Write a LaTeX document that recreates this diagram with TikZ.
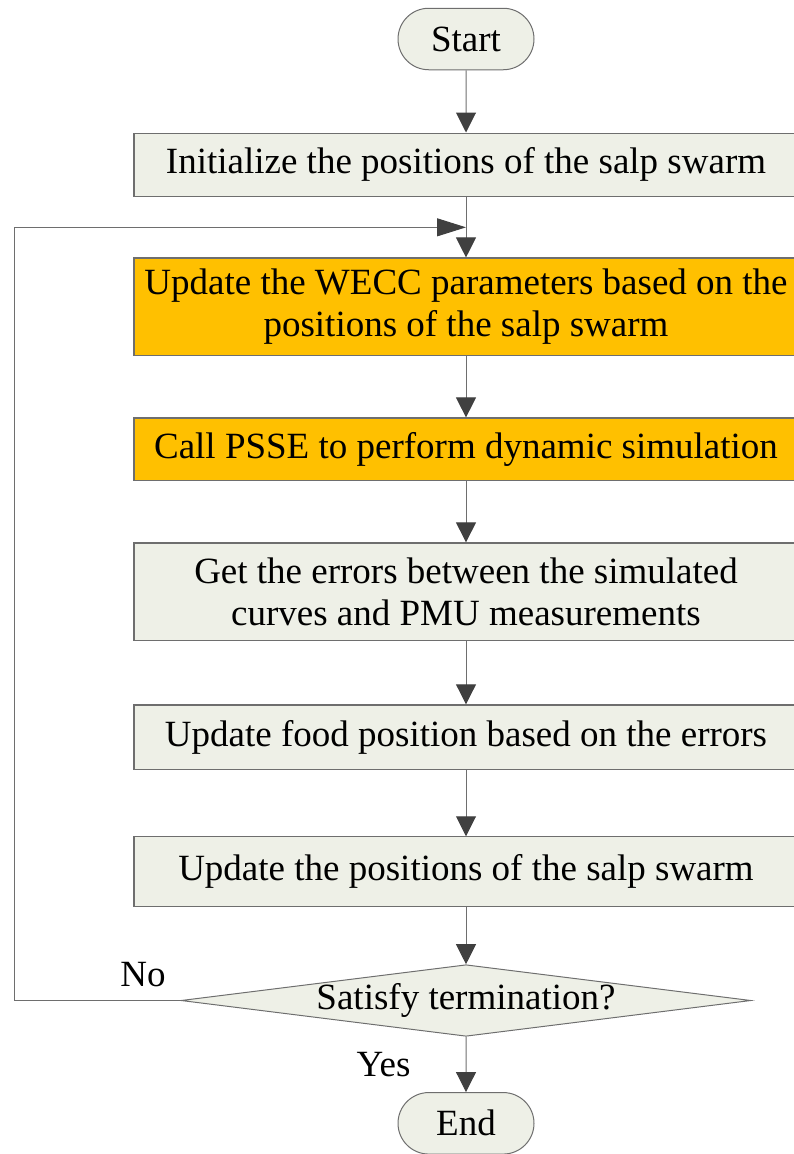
\documentclass[tikz,border=0pt]{standalone}
\usepackage{fontspec}
\setmainfont{Liberation Serif}
\usetikzlibrary{arrows.meta,shapes.geometric,shapes.misc,positioning,calc}
\definecolor{boxfill}{HTML}{EEF0E7}
\definecolor{hlfill}{HTML}{FFC000}
\definecolor{edgegray}{HTML}{6E6E6E}
\definecolor{tipgray}{HTML}{404040}
\tikzstyle{process}=[rectangle,draw=edgegray,line width=1.2pt,fill=boxfill,minimum width=664pt,minimum height=63.5pt,align=center,inner sep=0pt]
\tikzstyle{highlight}=[fill=hlfill]
\tikzstyle{terminal}=[rounded rectangle,draw=edgegray,line width=1pt,fill=boxfill,minimum width=136pt,minimum height=61.5pt,inner sep=0pt]
\tikzstyle{decision}=[diamond,draw=edgegray,line width=1pt,fill=boxfill,minimum width=565pt,minimum height=70.5pt,shape aspect=7.96,inner sep=0pt]
\tikzstyle{flow}=[draw=edgegray,line width=1pt,-{Triangle[length=20pt,width=20pt,color=tipgray]}]
\tikzstyle{flowback}=[draw=edgegray,line width=1pt,-{Triangle[length=29pt,width=18pt,color=tipgray]}]

\begin{document}
\begin{tikzpicture}[font=\fontsize{37}{42}\selectfont]
            \useasboundingbox (0,0) rectangle (793pt,-1154pt);
            \node (start) [terminal] at (466pt,-39pt) {Start};
            \node (init) [process, below=62.25pt of start] {Initialize the positions of the salp swarm};
            \node (wecc) [process, highlight, minimum height=97.5pt, below=60.25pt of init] {Update the WECC parameters based on the\\positions of the salp swarm};
            \node (psse) [process, highlight, minimum height=62.5pt, below=61.25pt of wecc] {Call PSSE to perform dynamic simulation};
            \node (errors) [process, minimum height=97.5pt, below=61.25pt of psse] {Get the errors between the simulated\\curves and PMU measurements};
            \node (food) [process, minimum height=64.5pt, below=63.25pt of errors] {Update food position based on the errors};
            \node (update) [process, minimum height=69.5pt, below=66.25pt of food] {Update the positions of the salp swarm};
            \node (check) [decision, below=57.25pt of update] {Satisfy termination?};
            \node (finish) [terminal, below=55.25pt of check] {End};

            \coordinate (merge) at ($(init.south)!0.5!(wecc.north)$);
            \coordinate (back) at (14pt,0pt);

            \path[flow] (start) edge (init);
            \path[flow] (init) edge (wecc);
            \path[flow] (wecc) edge (psse);
            \path[flow] (psse) edge (errors);
            \path[flow] (errors) edge (food);
            \path[flow] (food) edge (update);
            \path[flow] (update) edge (check);
            \path[flow] (check) edge node[left=55pt, inner sep=0pt] {Yes} (finish);
            \draw[flowback] (check.west) -- node[pos=0.225, above=13pt, inner sep=0pt] {No} (check.west -| back) |- (merge);
\end{tikzpicture}
\end{document}
